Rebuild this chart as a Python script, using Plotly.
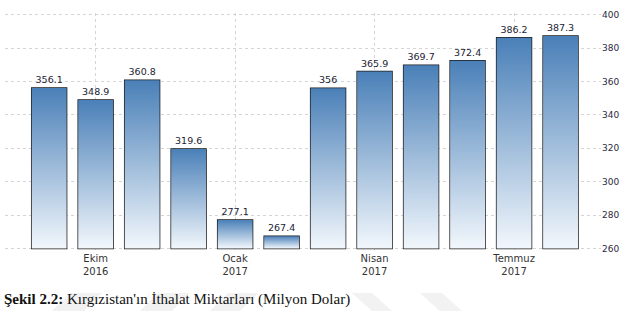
import plotly.graph_objects as go

months = ["Eylül 2016", "Ekim 2016", "Kasım 2016", "Aralık 2016", "Ocak 2017", "Şubat 2017",
          "Mart 2017", "Nisan 2017", "Mayıs 2017", "Haziran 2017", "Temmuz 2017", "Ağustos 2017"]
values = [356.1, 348.9, 360.8, 319.6, 277.1, 267.4, 356.0, 365.9, 369.7, 372.4, 386.2, 387.3]
labels = ["356.1", "348.9", "360.8", "319.6", "277.1", "267.4", "356", "365.9", "369.7", "372.4", "386.2", "387.3"]
tick_idx = [1, 4, 7, 10]
tick_text = ["Ekim<br>2016", "Ocak<br>2017", "Nisan<br>2017", "Temmuz<br>2017"]
y_ticks = [260, 280, 300, 320, 340, 360, 380, 400]
caption = "<b>Şekil 2.2:</b> Kırgızistan'ın İthalat Miktarları (Milyon Dolar)"

BASE = 260
W = 0.75
xs = list(range(len(months)))

WIDTH, HEIGHT = 628, 311
ML, MR, MT, MB = 5, 27, 13, 60
PW, PH = WIDTH - ML - MR, HEIGHT - MT - MB


def px_to_paper(px, py):
    return (px - ML) / PW, (HEIGHT - MB - py) / PH


fig = go.Figure()

# gradient fills
for x, v in zip(xs, values):
    fig.add_trace(go.Scatter(
        x=[x - W / 2, x - W / 2, x + W / 2, x + W / 2, x - W / 2],
        y=[BASE, v, v, BASE, BASE],
        mode="lines", line=dict(width=0),
        fill="toself",
        fillgradient=dict(type="vertical",
                          colorscale=[[0, "#f2f7fc"], [1, "#4a80b8"]]),
        hoverinfo="skip", showlegend=False,
    ))

# outlines + labels
fig.add_trace(go.Bar(
    x=xs, y=[v - BASE for v in values], base=BASE, width=W,
    marker=dict(color="rgba(0,0,0,0)", line=dict(color="#1c1c1c", width=1.5)),
    text=labels, textposition="outside", cliponaxis=False,
    textfont=dict(family="DejaVu Sans", size=9.5, color="#222233"),
    showlegend=False, hovertext=months,
))

# faint watermark stripes below the chart
stripes = [
    [(70, 293), (102, 293), (84, 311), (52, 311)],
    [(158, 293), (190, 293), (172, 311), (140, 311)],
    [(228, 293), (258, 293), (240, 311), (210, 311)],
    [(352, 293), (372, 293), (392, 311), (372, 311)],
    [(420, 293), (442, 293), (462, 311), (440, 311)],
]
shapes = []
for poly in stripes:
    pts = [px_to_paper(a, b) for a, b in poly]
    path = "M " + " L ".join(f"{a:.4f},{b:.4f}" for a, b in pts) + " Z"
    shapes.append(dict(type="path", path=path, xref="paper", yref="paper",
                       fillcolor="#f2f2f2", line=dict(width=0), layer="below"))

cx, cy = px_to_paper(2, 310)

fig.update_layout(
    width=WIDTH, height=HEIGHT,
    margin=dict(l=ML, r=MR, t=MT, b=MB),
    plot_bgcolor="rgba(0,0,0,0)", paper_bgcolor="white",
    bargap=0.25,
    shapes=shapes,
    xaxis=dict(
        range=[-0.95, 11.87], tickmode="array", tickvals=tick_idx, ticktext=tick_text,
        showgrid=True, gridcolor="#d4d4d4", griddash="dot", gridwidth=1,
        zeroline=False, showline=False, ticks="",
        tickfont=dict(family="DejaVu Sans", size=10, color="#333333"),
    ),
    yaxis=dict(
        range=[258.5, 401], side="right", tickmode="array", tickvals=y_ticks,
        showgrid=True, gridcolor="#d4d4d4", griddash="dot", gridwidth=1,
        zeroline=False, showline=False, ticks="",
        tickfont=dict(family="DejaVu Sans", size=9, color="#2a2a40"),
    ),
    annotations=[dict(
        text=caption, xref="paper", yref="paper", x=cx, y=cy,
        xanchor="left", yanchor="bottom", showarrow=False,
        font=dict(family="Liberation Serif", size=15, color="#111111"),
    )],
)

fig.write_html("out.html")
